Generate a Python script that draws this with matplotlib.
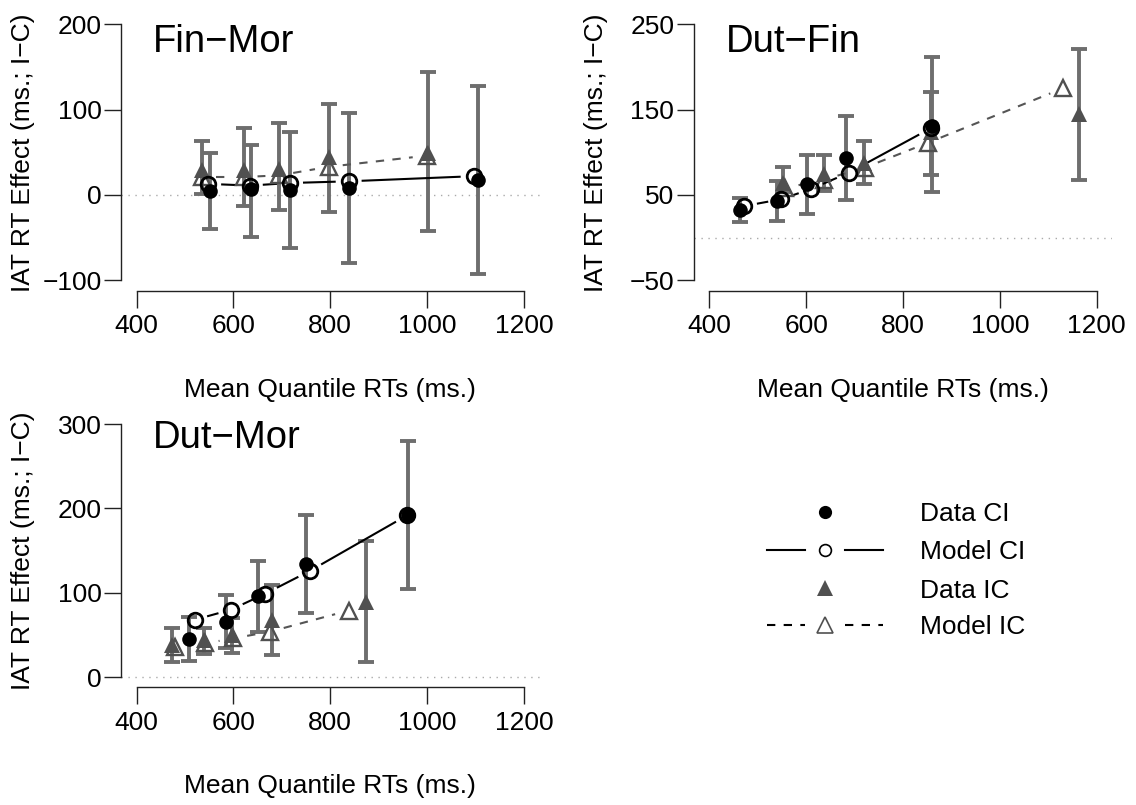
import matplotlib.pyplot as plt
import numpy as np

plt.rcParams['font.family'] = ['Liberation Sans', 'DejaVu Sans']

W, H = 1136, 805

# ---- data ----
# Fin-Mor
fm_rt_dci = [551, 636, 716, 838, 1104]
fm_eff_dci = [5, 7, 6, 8, 17]
fm_lo_dci = [-40, -49, -62, -80, -93]
fm_hi_dci = [49, 59, 74, 96, 127]
fm_rt_mci = [548, 634, 717, 838, 1096]
fm_eff_mci = [13, 11, 14, 16, 22]
fm_rt_dic = [535, 621, 695, 797, 1001]
fm_eff_dic = [29, 29, 30, 44, 49]
fm_lo_dic = [1, -13, -17, -20, -42]
fm_hi_dic = [63, 78, 84, 107, 144]
fm_rt_mic = [535, 621, 695, 797, 999]
fm_eff_mic = [21, 21, 23, 33, 46]

# Dut-Fin
df_rt_dci = [463, 539, 601, 682, 860]
df_eff_dci = [32, 43, 63, 93, 131]
df_lo_dci = [18, 20, 28, 44, 54]
df_hi_dci = [46, 66, 97, 142, 211]
df_rt_mci = [472, 548, 610, 688, 857]
df_eff_mci = [37, 45, 57, 76, 128]
df_rt_dic = [553, 637, 720, 857, 1164]
df_eff_dic = [64, 74, 88, 124, 145]
df_lo_dic = [54, 55, 63, 73, 67]
df_hi_dic = [83, 97, 113, 171, 221]
df_rt_mic = [556, 637, 721, 851, 1131]
df_eff_mic = [58, 68, 82, 111, 175]

# Dut-Mor
dm_rt_dci = [508, 584, 651, 749, 961]
dm_eff_dci = [45, 66, 96, 134, 192]
dm_lo_dci = [19, 35, 54, 76, 104]
dm_hi_dci = [71, 97, 138, 192, 280]
dm_rt_mci = [520, 595, 666, 758, 959]
dm_eff_mci = [68, 80, 99, 126, 192]
dm_rt_dic = [474, 540, 597, 679, 873]
dm_eff_dic = [38, 44, 50, 68, 89]
dm_lo_dic = [18, 27, 29, 26, 18]
dm_hi_dic = [58, 58, 70, 109, 161]
dm_rt_mic = [480, 541, 600, 676, 838]
dm_eff_mic = [36, 40, 46, 54, 79]

titles = ['Fin\u2212Mor', 'Dut\u2212Fin', 'Dut\u2212Mor']
yticks_list = [[-100, 0, 100, 200], [-50, 50, 150, 250], [0, 100, 200, 300]]
xticks = [400, 600, 800, 1000, 1200]

ERR_C = '#6e6e6e'
TRI_C = '#505050'
GAP = 14  # px gap around points for type "b" lines


def broken_line(ax, xs, ys, **kw):
    # R style type="b" line: segments stop short of each point
    pts = ax.transData.transform(np.column_stack([xs, ys]))
    inv = ax.transData.inverted()
    for p0, p1 in zip(pts[:-1], pts[1:]):
        d = np.hypot(*(p1 - p0))
        f = GAP / d
        if f < 0.5:
            seg = inv.transform(np.array([p0 + f * (p1 - p0), p1 - f * (p1 - p0)]))
            ax.plot(seg[:, 0], seg[:, 1], **kw)


fig = plt.figure(figsize=(W / 100, H / 100), dpi=100)

# axes boxes in pixels: left, right, top, bottom
boxes = [(121, 539.5, 13.8, 290.7), (693.8, 1112.2, 13.8, 290.7), (121, 539.5, 414, 687.3)]
title_y = [0.863, 0.863, 0.874]

panels = [
    (fm_rt_dci, fm_eff_dci, fm_lo_dci, fm_hi_dci, fm_rt_mci, fm_eff_mci,
     fm_rt_dic, fm_eff_dic, fm_lo_dic, fm_hi_dic, fm_rt_mic, fm_eff_mic),
    (df_rt_dci, df_eff_dci, df_lo_dci, df_hi_dci, df_rt_mci, df_eff_mci,
     df_rt_dic, df_eff_dic, df_lo_dic, df_hi_dic, df_rt_mic, df_eff_mic),
    (dm_rt_dci, dm_eff_dci, dm_lo_dci, dm_hi_dci, dm_rt_mci, dm_eff_mci,
     dm_rt_dic, dm_eff_dic, dm_lo_dic, dm_hi_dic, dm_rt_mic, dm_eff_mic),
]

for i, p in enumerate(panels):
    l, r, t, b = boxes[i]
    ax = fig.add_axes([l / W, 1 - b / H, (r - l) / W, (b - t) / H])
    yt = yticks_list[i]
    ext = 0.04 * (yt[-1] - yt[0])
    ax.set_xlim(400 - 32, 1200 + 32)
    ax.set_ylim(yt[0] - ext, yt[-1] + ext)
    ax.set_xticks(xticks)
    ax.set_yticks(yt)
    for s in ['top', 'right']:
        ax.spines[s].set_visible(False)
    ax.spines['bottom'].set_bounds(400, 1200)
    ax.spines['left'].set_bounds(yt[0], yt[-1])
    for s in ['bottom', 'left']:
        ax.spines[s].set_linewidth(1.0)
        ax.spines[s].set_color('#222222')
    ax.tick_params(direction='out', length=12, width=1.0, color='#222222',
                   labelsize=19, pad=2)
    ax.tick_params(axis='x', pad=5)
    ax.patch.set_visible(False)

    (x_dci, y_dci, lo_dci, hi_dci, x_mci, y_mci,
     x_dic, y_dic, lo_dic, hi_dic, x_mic, y_mic) = p

    ax.axhline(0, color='#aaaaaa', lw=1.0, ls=(0, (1, 4)), zorder=1)

    # error bars
    for xs, ys, lo, hi in [(x_dci, y_dci, lo_dci, hi_dci), (x_dic, y_dic, lo_dic, hi_dic)]:
        ys = np.array(ys)
        err = np.vstack([ys - np.array(lo), np.array(hi) - ys])
        ax.errorbar(xs, ys, yerr=err, fmt='none', ecolor=ERR_C, elinewidth=2.8,
                    capsize=5.5, capthick=2.8, zorder=2)

    # model lines
    broken_line(ax, x_mci, y_mci, color='black', lw=1.5, zorder=3)
    broken_line(ax, x_mic, y_mic, color='#555555', lw=1.5, dashes=(4, 4), zorder=3)

    # points
    ax.plot(x_mic, y_mic, ls='none', marker='^', ms=12, mfc='none', mec=TRI_C, mew=1.7, zorder=4)
    ax.plot(x_dic, y_dic, ls='none', marker='^', ms=12, color=TRI_C, mew=0, zorder=5)
    ax.plot(x_mci, y_mci, ls='none', marker='o', ms=10.5, mfc='none', mec='black', mew=2.0, zorder=6)
    ax.plot(x_dci, y_dci, ls='none', marker='o', ms=10.5, color='black', mew=0, zorder=7)

    h = b - t
    ax.text(32 / (r - l), title_y[i], titles[i], transform=ax.transAxes,
            fontsize=27.5, ha='left', va='baseline')
    ax.text(0.5, -99 / h, 'Mean Quantile RTs (ms.)', transform=ax.transAxes,
            fontsize=19, ha='center', va='center')
    ax.text(-98 / (r - l), 0.5, 'IAT RT Effect (ms.; I\u2212C)', transform=ax.transAxes,
            fontsize=19, ha='center', va='center', rotation=90)

# legend, drawn R style in pixel space
lax = fig.add_axes([0, 0, 1, 1])
lax.set_xlim(0, W)
lax.set_ylim(H, 0)
lax.axis('off')
leg_labels = ['Data CI', 'Model CI', 'Data IC', 'Model IC']
rows = [511.7, 550, 588.3, 625]
sx = 825
lax.plot(sx, rows[0], marker='o', ms=9.5, color='black', mew=0)
lax.plot([767, 805], [rows[1]] * 2, color='black', lw=1.5)
lax.plot([845, 883], [rows[1]] * 2, color='black', lw=1.5)
lax.plot(sx, rows[1], marker='o', ms=8.5, mfc='none', mec='black', mew=1.2)
lax.plot(sx, rows[2], marker='^', ms=11, color=TRI_C, mew=0)
lax.plot([767, 805], [rows[3]] * 2, color='black', lw=1.5, dashes=(4, 4))
lax.plot([845, 883], [rows[3]] * 2, color='black', lw=1.5, dashes=(4, 4))
lax.plot(sx, rows[3], marker='^', ms=11, mfc='none', mec=TRI_C, mew=1.2)
for lab, yy in zip(leg_labels, rows):
    lax.text(920, yy + 9.4, lab, fontsize=19, ha='left', va='baseline')

fig.savefig('out.png', dpi=100)
